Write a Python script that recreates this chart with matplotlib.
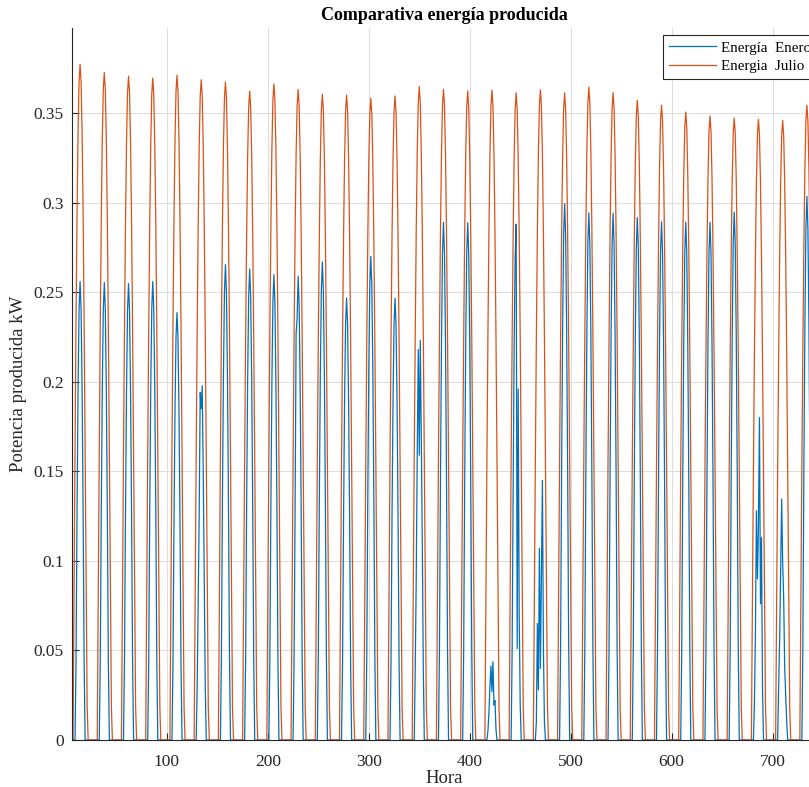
import matplotlib.pyplot as plt
import numpy as np

# picos diarios (kW), 31 dias
pico_enero = [0.256, 0.2554, 0.2548, 0.256, 0.2386, 0.1977, 0.2654, 0.263, 0.2598, 0.259,
              0.2669, 0.2468, 0.2699, 0.2466, 0.2232, 0.289, 0.2887, 0.044, 0.288, 0.145,
              0.2995, 0.2943, 0.2941, 0.2917, 0.2893, 0.289, 0.289, 0.2946, 0.180, 0.1345,
              0.3035]
pico_julio = [0.3772, 0.3726, 0.3706, 0.3696, 0.3712, 0.3686, 0.3673, 0.3622, 0.3663, 0.3632,
              0.3606, 0.3600, 0.3583, 0.3596, 0.3648, 0.3632, 0.3624, 0.3628, 0.3613, 0.3630,
              0.3613, 0.3645, 0.3615, 0.3572, 0.3544, 0.3506, 0.3484, 0.3473, 0.3465, 0.3459,
              0.3544]

# forma horaria de un dia despejado (fraccion del pico), horas 0..23
perfil_enero = [0, 0, 0, 0, 0, 0, 0, 0, 0,
                0.174, 0.5, 0.766, 0.94, 1.0, 0.94, 0.766, 0.5, 0.174,
                0, 0, 0, 0, 0, 0]
perfil_julio = [0, 0, 0, 0, 0, 0, 0,
                0.22, 0.43, 0.62, 0.78, 0.90, 0.975, 1.0, 0.975, 0.90, 0.78, 0.62, 0.43, 0.22, 0.05,
                0, 0, 0]

# dias nublados de enero, valores horarios (kW)
dia_06 = [0]*9 + [0.03, 0.08, 0.126, 0.194, 0.185, 0.1977, 0.15, 0.09, 0.03] + [0]*6
dia_10 = [0]*9 + [0.045, 0.13, 0.227, 0.2355, 0.259, 0.243, 0.198, 0.13, 0.045] + [0]*6
dia_15 = [0]*9 + [0.04, 0.09, 0.16, 0.218, 0.159, 0.223, 0.17, 0.11, 0.04] + [0]*6
dia_18 = [0]*9 + [0.005, 0.015, 0.03, 0.0413, 0.027, 0.0437, 0.0195, 0.022, 0.006] + [0]*6
dia_19 = [0]*9 + [0.05, 0.14, 0.22, 0.27, 0.288, 0.051, 0.196, 0.07, 0.02] + [0]*6
dia_20 = [0]*9 + [0.01, 0.065, 0.028, 0.107, 0.04, 0.09, 0.145, 0.05, 0.01] + [0]*6
dia_29 = [0]*9 + [0.02, 0.06, 0.128, 0.09, 0.12, 0.18, 0.076, 0.113, 0.03] + [0]*6
dia_30 = [0]*9 + [0.03, 0.056, 0.094, 0.1345, 0.099, 0.079, 0.040, 0.025, 0.01] + [0]*6
nublados = {5: dia_06, 9: dia_10, 14: dia_15, 17: dia_18, 18: dia_19,
            19: dia_20, 28: dia_29, 29: dia_30}

yticks = [0, 0.05, 0.1, 0.15, 0.2, 0.25, 0.3, 0.35]
ytick_labels = ["0", "0.05", "0.1", "0.15", "0.2", "0.25", "0.3", "0.35"]
xticks = [100, 200, 300, 400, 500, 600, 700]


def main():
    hora = np.arange(1, 24 * 31 + 1)
    enero = []
    julio = []
    for d in range(31):
        if d in nublados:
            enero.extend(nublados[d])
        else:
            enero.extend(pico_enero[d] * np.array(perfil_enero))
        julio.extend(pico_julio[d] * np.array(perfil_julio))

    plt.rcParams['font.family'] = ['Liberation Serif', 'DejaVu Serif']
    fig = plt.figure(figsize=(8.09, 7.87), dpi=100)
    ax = fig.add_axes([72 / 809, 47 / 787, 745 / 809, 712 / 787])

    ax.plot(hora, enero, color='#0072BD', lw=0.9, label='Energía  Enero')
    ax.plot(hora, julio, color='#D95319', lw=0.9, label='Energia  Julio')

    ax.set_xlim(6, 744)
    ax.set_ylim(0, 0.3975)
    ax.set_xticks(xticks)
    ax.set_yticks(yticks)
    ax.set_yticklabels(ytick_labels)
    ax.grid(True, color='#dcdcdc', lw=0.7)
    ax.set_axisbelow(True)
    for s in ['top', 'right']:
        ax.spines[s].set_visible(False)
    for s in ['left', 'bottom']:
        ax.spines[s].set_color('#262626')
        ax.spines[s].set_linewidth(0.8)
    ax.tick_params(direction='in', length=5, width=0.8, colors='#262626',
                   labelsize=12.5, labelcolor='#262626')
    ax.tick_params(axis='y', pad=6)
    ax.tick_params(axis='x', pad=10)

    ax.set_xlabel('Hora', fontsize=13.5, color='#262626')
    ax.xaxis.set_label_coords(0.5, -0.042)
    ax.xaxis.label.set_va('top')
    ax.set_ylabel('Potencia producida kW', fontsize=13.5, color='#262626')
    ax.yaxis.set_label_coords(-0.06, 0.5)
    ax.set_title('Comparativa energía producida', fontsize=13, fontweight='bold', pad=6)

    leg = ax.legend(loc='upper right', bbox_to_anchor=(1.0, 0.99), borderaxespad=0,
                    fontsize=10.8, fancybox=False, framealpha=1, edgecolor='#262626',
                    handlelength=3.1, handletextpad=0.35, labelspacing=0.35, borderpad=0.4)
    leg.get_frame().set_linewidth(0.8)

    fig.savefig('out.png', dpi=100)


if __name__ == "__main__":
    main()
